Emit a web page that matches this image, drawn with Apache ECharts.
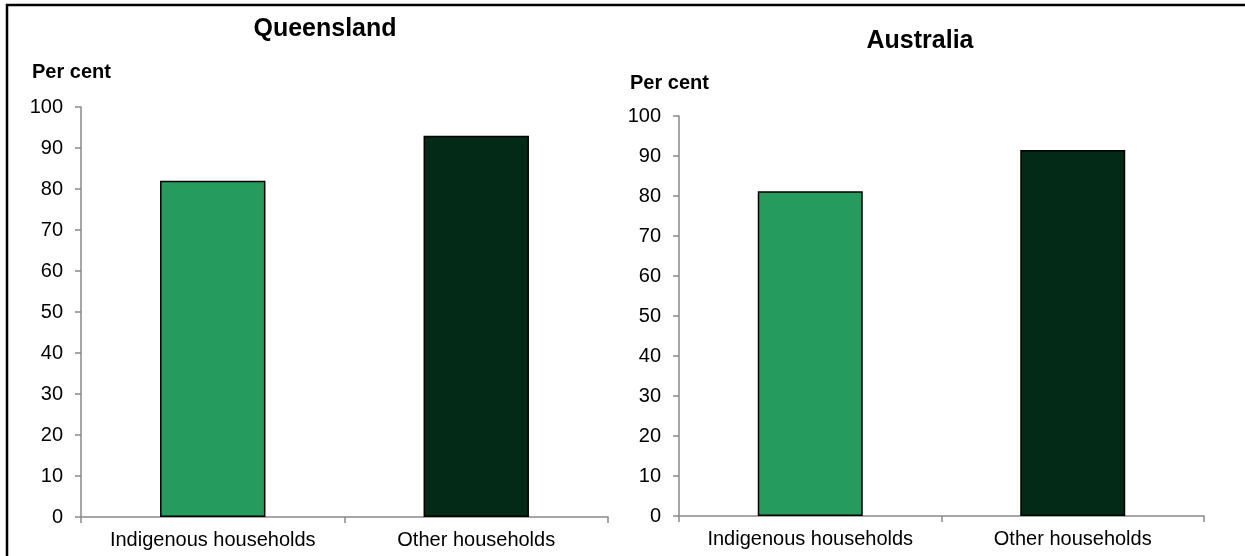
<!DOCTYPE html>
<html>
<head>
<meta charset="utf-8">
<script src="https://cdn.jsdelivr.net/npm/echarts@6/dist/echarts.min.js"></script>
<style>
html,body{margin:0;padding:0;background:#fff;}
#chart{width:1245px;height:556px;}
</style>
</head>
<body>
<div id="chart"></div>
<script>
const categories = ['Indigenous households', 'Other households'];
const qldValues = [82, 93];
const ausValues = [81.2, 91.5];
const panelTitles = ['Queensland', 'Australia'];
const axisTitle = 'Per cent';
const barColors = ['#269B5E', '#022A17'];

const FONT = 'Liberation Sans, Arial, sans-serif';
const chart = echarts.init(document.getElementById('chart'));

function xAxisFor(gi) {
  return {
    type: 'category', gridIndex: gi, data: categories,
    axisLine: {lineStyle: {color: '#898989', width: 1.5}},
    axisTick: {show: true, interval: 0, length: 6, lineStyle: {color: '#898989', width: 1.5}},
    axisLabel: {interval: 0, color: '#000', fontSize: 20, fontFamily: FONT, margin: 13, hideOverlap: false}
  };
}
function yAxisFor(gi) {
  return {
    type: 'value', gridIndex: gi, min: 0, max: 100, interval: 10,
    axisLine: {show: true, lineStyle: {color: '#898989', width: 1.5}},
    axisTick: {show: true, length: 6, lineStyle: {color: '#898989', width: 1.5}},
    splitLine: {show: false},
    axisLabel: {color: '#000', fontSize: 20, fontFamily: FONT, margin: 18}
  };
}
function seriesFor(gi, values) {
  return {
    type: 'bar', xAxisIndex: gi, yAxisIndex: gi,
    barCategoryGap: '60%',
    data: values.map((v, i) => ({value: v, itemStyle: {color: barColors[i]}})),
    itemStyle: {borderColor: '#000', borderWidth: 1.5},
    emphasis: {disabled: true}
  };
}

chart.setOption({
  animation: false,
  backgroundColor: '#fff',
  title: [
    {text: panelTitles[0], left: 325, top: 17, textAlign: 'center', padding: 0,
     textStyle: {fontSize: 25, fontWeight: 'bold', color: '#000', fontFamily: FONT}},
    {text: panelTitles[1], left: 920, top: 29, textAlign: 'center', padding: 0,
     textStyle: {fontSize: 25, fontWeight: 'bold', color: '#000', fontFamily: FONT}}
  ],
  grid: [
    {left: 81, right: 637, top: 107, bottom: 39, containLabel: false},
    {left: 679, right: 41, top: 116, bottom: 40, containLabel: false}
  ],
  xAxis: [xAxisFor(0), xAxisFor(1)],
  yAxis: [yAxisFor(0), yAxisFor(1)],
  series: [seriesFor(0, qldValues), seriesFor(1, ausValues)],
  graphic: [
    {type: 'rect', silent: true, z: 100,
     shape: {x: 7, y: 5, width: 1400, height: 700},
     style: {fill: null, stroke: '#000', lineWidth: 2.5}},
    {type: 'text', left: 32, top: 62,
     style: {text: axisTitle, fontSize: 20, fontWeight: 'bold', fill: '#000', fontFamily: FONT}},
    {type: 'text', left: 630, top: 73,
     style: {text: axisTitle, fontSize: 20, fontWeight: 'bold', fill: '#000', fontFamily: FONT}}
  ]
});
</script>
</body>
</html>
